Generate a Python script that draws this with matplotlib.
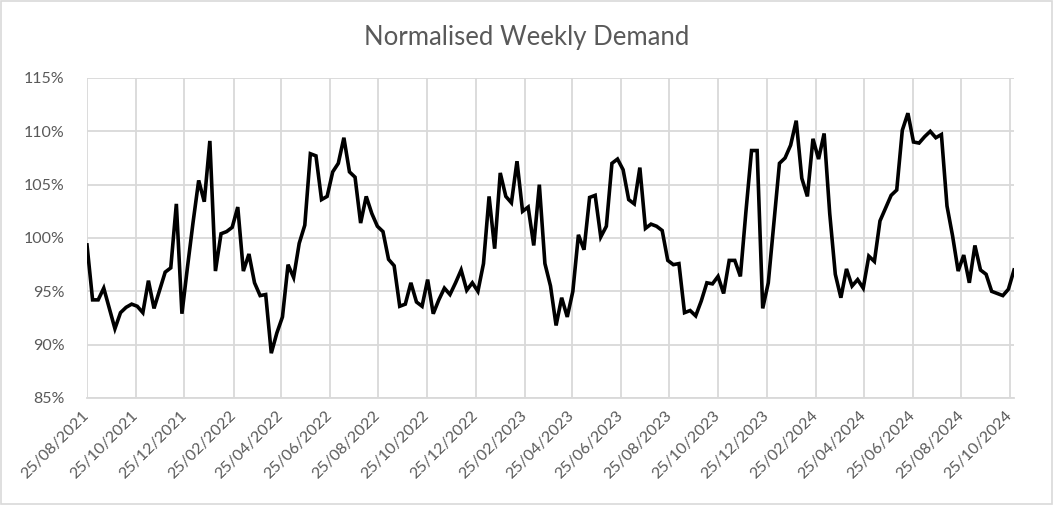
import matplotlib
matplotlib.use("Agg")
import matplotlib.pyplot as plt
from matplotlib.ticker import FuncFormatter, MultipleLocator
from matplotlib.patches import Rectangle
import pandas as pd

title = "Normalised Weekly Demand"
start_date = "2021-08-25"
demand_pct = [
    99.35, 94.2, 94.2, 95.3, 93.4, 91.5, 93.0, 93.5, 93.8, 93.6,
    93.0, 96.0, 93.4, 95.1, 96.8, 97.2, 103.2, 92.9, 97.3, 101.5,
    105.4, 103.4, 109.1, 96.9, 100.4, 100.6, 101.0, 102.9, 96.9, 98.5,
    95.8, 94.6, 94.7, 89.2, 91.1, 92.6, 97.5, 96.3, 99.5, 101.2,
    107.9, 107.7, 103.6, 103.9, 106.2, 107.0, 109.4, 106.2, 105.7, 101.4,
    103.9, 102.3, 101.1, 100.6, 98.0, 97.4, 93.6, 93.8, 95.8, 94.0,
    93.6, 96.1, 92.9, 94.2, 95.3, 94.7, 95.8, 97.0, 95.1, 95.8,
    95.0, 97.6, 103.9, 99.0, 106.1, 103.9, 103.3, 107.2, 102.5, 102.9,
    99.3, 105.0, 97.6, 95.5, 91.8, 94.4, 92.6, 95.0, 100.3, 98.9,
    103.8, 104.0, 100.1, 101.1, 107.0, 107.4, 106.4, 103.6, 103.2, 106.6,
    100.9, 101.3, 101.1, 100.7, 97.9, 97.5, 97.6, 93.0, 93.2, 92.7,
    94.1, 95.8, 95.7, 96.4, 94.8, 97.9, 97.9, 96.4, 102.5, 108.2,
    108.2, 93.4, 95.8, 101.4, 107.0, 107.5, 108.7, 111.0, 105.6, 103.9,
    109.3, 107.4, 109.8, 102.3, 96.6, 94.4, 97.1, 95.5, 96.1, 95.3,
    98.3, 97.8, 101.6, 102.8, 104.0, 104.5, 110.1, 111.7, 109.0, 108.9,
    109.5, 110.0, 109.4, 109.7, 103.0, 100.2, 96.9, 98.4, 95.8, 99.3,
    97.0, 96.6, 95.0, 94.8, 94.6, 95.2, 97.0,
]
tick_labels = [
    "25/08/2021", "25/10/2021", "25/12/2021", "25/02/2022", "25/04/2022",
    "25/06/2022", "25/08/2022", "25/10/2022", "25/12/2022", "25/02/2023",
    "25/04/2023", "25/06/2023", "25/08/2023", "25/10/2023", "25/12/2023",
    "25/02/2024", "25/04/2024", "25/06/2024", "25/08/2024", "25/10/2024",
]

dates = pd.date_range(start_date, periods=len(demand_pct), freq="7D")
values = [v / 100 for v in demand_pct]
tick_dates = pd.to_datetime(tick_labels, format="%d/%m/%Y")

plt.rcParams["font.family"] = ["Lato", "DejaVu Sans"]
grid_c = "#d9d9d9"
text_c = "#595959"

fig = plt.figure(figsize=(10.54, 5.05), dpi=100)
ax = fig.add_axes([87 / 1054, 1 - 398 / 505, (1014 - 87) / 1054, (398 - 78) / 505])

ax.plot(dates, values, color="black", linewidth=2.6, solid_joinstyle="miter")

ax.set_ylim(0.85, 1.15)
ax.yaxis.set_major_locator(MultipleLocator(0.05))
ax.yaxis.set_major_formatter(FuncFormatter(lambda v, p: f"{v*100:.0f}%"))
ax.set_xlim(dates[0], dates[-1])
ax.set_xticks(tick_dates)
ax.set_xticklabels(tick_labels, rotation=45, ha="right", va="center", rotation_mode="anchor")

ax.grid(True, color=grid_c, linewidth=1.3)
ax.set_axisbelow(True)
for s in ["top", "right", "left"]:
    ax.spines[s].set_visible(False)
ax.spines["bottom"].set_color(grid_c)
ax.spines["bottom"].set_linewidth(1.3)
ax.tick_params(axis="both", length=0, colors=text_c, labelsize=11.5)
ax.tick_params(axis="x", pad=11)
ax.tick_params(axis="y", pad=16)

fig.text(0.5, 1 - 37 / 505, title, ha="center", va="center", fontsize=18.5, color=text_c)
fig.patches.append(Rectangle((0.001, 0.002), 0.997, 0.996, transform=fig.transFigure,
                             fill=False, edgecolor=grid_c, linewidth=1.2))

fig.savefig("out.png", dpi=100, facecolor="white")
